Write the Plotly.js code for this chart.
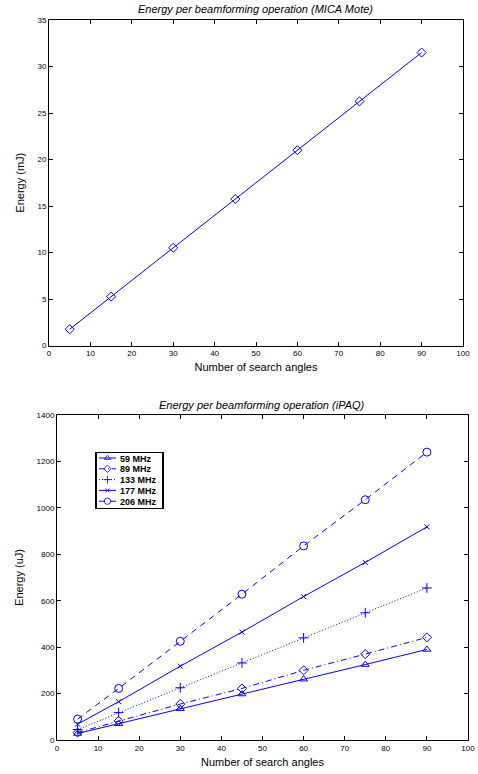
<!DOCTYPE html>
<html><head><meta charset="utf-8">
<script src="https://cdn.plot.ly/plotly-3.0.1.min.js"></script>
<style>body{margin:0;padding:0;background:#fff}#c{width:478px;height:774px}</style>
</head><body><div id="c"></div>
<script>
const angles = [5, 15, 30, 45, 60, 75, 90];
const micaEnergy = [1.75, 5.25, 10.5, 15.75, 21.0, 26.25, 31.5];
const seriesNames = ['59 MHz', '89 MHz', '133 MHz', '177 MHz', '206 MHz'];
const e59 = [28, 70, 135, 198, 262, 325, 390];
const e89 = [32, 82, 155, 222, 300, 370, 442];
const e133 = [45, 118, 225, 332, 440, 548, 655];
const e177 = [68, 165, 318, 465, 618, 765, 918];
const e206 = [90, 222, 425, 628, 836, 1035, 1240];
const xTicks = [0,10,20,30,40,50,60,70,80,90,100];

const blue = '#0000ff';
const font = {family: 'Liberation Sans, Arial, sans-serif', color: '#000'};
const W = 478, H = 774;

const styles = [
  {dash: 'solid', symbol: 'triangle-up-open', size: 7},
  {dash: '6px,3px,1px,3px', symbol: 'diamond-open', size: 7},
  {dash: '1px,2px', symbol: 'cross-thin-open', size: 7},
  {dash: 'solid', symbol: 'x-thin-open', size: 5},
  {dash: '6px,5px', symbol: 'circle-open', size: 8}
];
const ipaq = [e59, e89, e133, e177, e206];

const traces = [{
  x: angles, y: micaEnergy, type: 'scatter', mode: 'lines+markers',
  xaxis: 'x', yaxis: 'y', showlegend: false,
  line: {color: blue, width: 1},
  marker: {symbol: 'diamond-open', size: 7, color: blue, line: {color: blue, width: 1}}
}];
ipaq.forEach((vals, i) => {
  traces.push({
    x: angles, y: vals, type: 'scatter', mode: 'lines+markers', name: seriesNames[i],
    xaxis: 'x2', yaxis: 'y2',
    line: {color: blue, width: 1, dash: styles[i].dash},
    marker: {symbol: styles[i].symbol, size: styles[i].size, color: blue, line: {color: blue, width: 1}}
  });
});

function xa(domain, anchor) {
  return {domain: domain, anchor: anchor, range: [0, 100], tickvals: xTicks,
    ticks: 'inside', ticklen: 4, tickcolor: '#000', showline: true, linecolor: '#000', linewidth: 1,
    mirror: 'ticks', showgrid: false, zeroline: false,
    tickfont: Object.assign({size: 8}, font),
    title: {text: 'Number of search angles', font: Object.assign({size: 11}, font), standoff: 6}};
}
function ya(domain, anchor, range, dtick, title) {
  return {domain: domain, anchor: anchor, range: range, dtick: dtick,
    ticks: 'inside', ticklen: 4, tickcolor: '#000', showline: true, linecolor: '#000', linewidth: 1,
    mirror: 'ticks', showgrid: false, zeroline: false,
    tickfont: Object.assign({size: 8}, font),
    title: {text: title, font: Object.assign({size: 11}, font), standoff: 10}};
}

const layout = {
  width: W, height: H, margin: {l: 0, r: 0, t: 0, b: 0},
  paper_bgcolor: '#fff', plot_bgcolor: '#fff',
  xaxis: xa([49/W, 463/W], 'y'),
  yaxis: ya([1 - 345.5/H, 1 - 20/H], 'x', [0, 35], 5, 'Energy (mJ)'),
  xaxis2: xa([57/W, 468/W], 'y2'),
  yaxis2: ya([1 - 740/H, 1 - 415/H], 'x2', [0, 1400], 200, 'Energy (uJ)'),
  legend: {x: 95/W, y: 1 - 451.5/H, xanchor: 'left', yanchor: 'top',
    bordercolor: '#000', borderwidth: 1.5, bgcolor: '#fff',
    font: Object.assign({size: 9, weight: 'bold'}, font),
    tracegroupgap: 0, itemwidth: 30},
  annotations: [
    {text: '<i>Energy per beamforming operation (MICA Mote)</i>', xref: 'paper', yref: 'paper',
     x: 256/W, y: 1 - 9/H, xanchor: 'center', yanchor: 'middle', showarrow: false,
     font: Object.assign({size: 11}, font)},
    {text: '<i>Energy per beamforming operation (iPAQ)</i>', xref: 'paper', yref: 'paper',
     x: 262/W, y: 1 - 405/H, xanchor: 'center', yanchor: 'middle', showarrow: false,
     font: Object.assign({size: 11}, font)}
  ]
};
Plotly.newPlot('c', traces, layout, {displayModeBar: false, staticPlot: true}).then(() => {
  // compact the legend to match the reference's tight spacing
  const legend = document.querySelector('.legend');
  if (!legend) return;
  const items = legend.querySelectorAll('g.traces');
  items.forEach((g, i) => {
    g.setAttribute('transform', 'translate(0,' + (6.5 + i * 10.8) + ')');
    g.querySelectorAll('.legendlines path').forEach(p => p.setAttribute('d', 'M4,0h17'));
    g.querySelectorAll('.legendpoints path').forEach(p => p.setAttribute('transform', 'translate(12.5,0) scale(0.8)'));
    const t = g.querySelector('text.legendtext');
    if (t) {
      t.setAttribute('x', 25);
      t.querySelectorAll('tspan[x]').forEach(s => s.setAttribute('x', 25));
    }
  });
  const bg = legend.querySelector('rect.bg');
  if (bg) { bg.setAttribute('width', 67); bg.setAttribute('height', 56); }
  legend.querySelectorAll('clipPath rect').forEach(r => { r.setAttribute('width', 67); r.setAttribute('height', 56); });
});
</script></body></html>
